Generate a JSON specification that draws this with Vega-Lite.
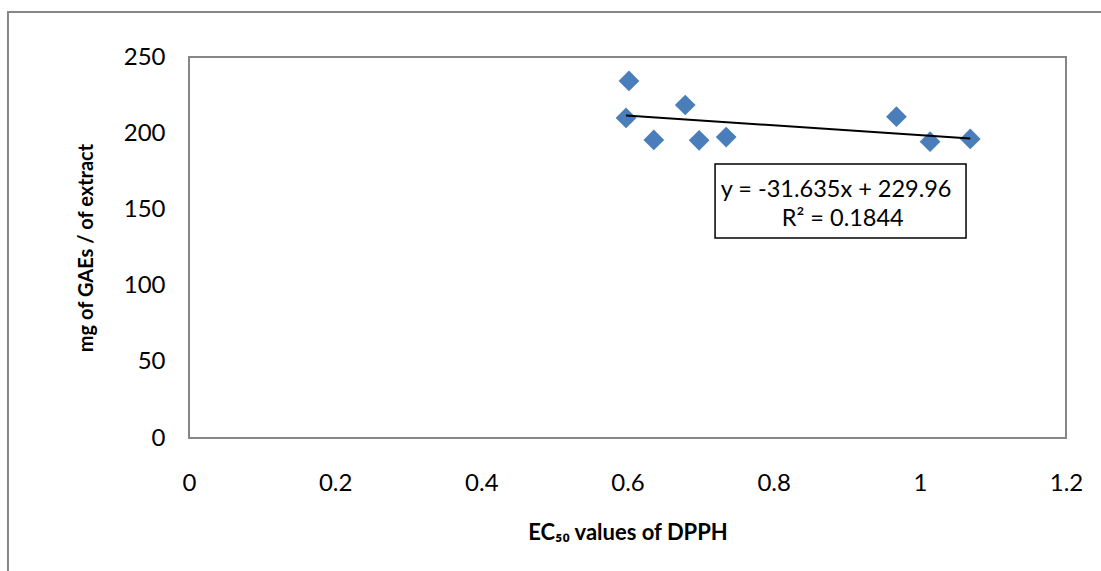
{
  "$schema": "https://vega.github.io/schema/vega-lite/v6.json",
  "width": 877,
  "height": 381,
  "autosize": {"type": "none"},
  "padding": {"left": 189, "top": 57, "right": 35, "bottom": 133},
  "background": "white",
  "config": {
    "font": "Lato",
    "view": {"stroke": "#868686", "strokeWidth": 2},
    "axis": {"grid": false, "domain": false, "ticks": false, "labelFlush": false, "labelFont": "Lato", "labelFontSize": 24, "labelColor": "#000000", "titleFont": "Lato", "titleFontSize": 20, "titleFontWeight": "bold", "titleColor": "#000000"}
  },
  "resolve": {"scale": {"x": "shared", "y": "shared"}},
  "layer": [
    {
      "data": {"values": [{}]},
      "mark": {"type": "rect", "fill": null, "stroke": "#868686", "strokeWidth": 2, "clip": false},
      "encoding": {
        "x": {"datum": -0.2477, "type": "quantitative", "scale": {"domain": [0, 1.2], "nice": false, "zero": false}},
        "x2": {"datum": 1.7},
        "y": {"datum": 279.5, "type": "quantitative", "scale": {"domain": [0, 250], "nice": false, "zero": false}},
        "y2": {"datum": -150}
      }
    },
    {
      "data": {
        "name": "points",
        "values": [
          {"ec50": 0.602, "gae": 234.3},
          {"ec50": 0.598, "gae": 210.0},
          {"ec50": 0.636, "gae": 195.6},
          {"ec50": 0.679, "gae": 218.5},
          {"ec50": 0.698, "gae": 195.3},
          {"ec50": 0.735, "gae": 197.5},
          {"ec50": 0.968, "gae": 210.8},
          {"ec50": 1.014, "gae": 194.4},
          {"ec50": 1.069, "gae": 196.2}
        ]
      },
      "layer": [
        {
          "mark": {"type": "point", "shape": "diamond", "filled": true, "size": 430, "color": "#4A7EBB", "opacity": 1},
          "encoding": {
            "x": {"field": "ec50", "type": "quantitative", "scale": {"domain": [0, 1.2], "nice": false, "zero": false},
              "axis": {"values": [0, 0.2, 0.4, 0.6, 0.8, 1, 1.2], "labelPadding": 33, "titlePadding": 27, "title": "EC₅₀ values of DPPH", "titleFontSize": 22, "labelExpr": "datum.value === 0 ? '0' : datum.value === 1 ? '1' : format(datum.value, '.1f')"}},
            "y": {"field": "gae", "type": "quantitative", "scale": {"domain": [0, 250], "nice": false, "zero": false},
              "axis": {"values": [0, 50, 100, 150, 200, 250], "labelPadding": 24, "titlePadding": 27, "title": "mg of GAEs / of extract"}}
          }
        },
        {
          "mark": {"type": "line", "color": "#000000", "strokeWidth": 2},
          "transform": [{"regression": "gae", "on": "ec50"}],
          "encoding": {
            "x": {"field": "ec50", "type": "quantitative", "scale": {"domain": [0, 1.2], "nice": false, "zero": false}},
            "y": {"field": "gae", "type": "quantitative", "scale": {"domain": [0, 250], "nice": false, "zero": false}}
          }
        }
      ]
    },
    {
      "data": {"values": [{}]},
      "mark": {"type": "rect", "fill": "white", "stroke": "#000000", "strokeWidth": 1.5},
      "encoding": {
        "x": {"datum": 0.7198, "type": "quantitative", "scale": {"domain": [0, 1.2], "nice": false, "zero": false}},
        "x2": {"datum": 1.0632},
        "y": {"datum": 179.8, "type": "quantitative", "scale": {"domain": [0, 250], "nice": false, "zero": false}},
        "y2": {"datum": 131.2}
      }
    },
    {
      "data": {"values": [{"label": "y = -31.635x + 229.96", "xpos": 0.8855, "ypos": 158.1}, {"label": "R² = 0.1844", "xpos": 0.8945, "ypos": 139.1}]},
      "mark": {"type": "text", "fontSize": 23.5, "font": "Lato", "fontWeight": "normal", "align": "center", "baseline": "alphabetic", "color": "#000000"},
      "encoding": {
        "x": {"field": "xpos", "type": "quantitative", "scale": {"domain": [0, 1.2], "nice": false, "zero": false}},
        "y": {"field": "ypos", "type": "quantitative", "scale": {"domain": [0, 250], "nice": false, "zero": false}},
        "text": {"field": "label"}
      }
    }
  ]
}
